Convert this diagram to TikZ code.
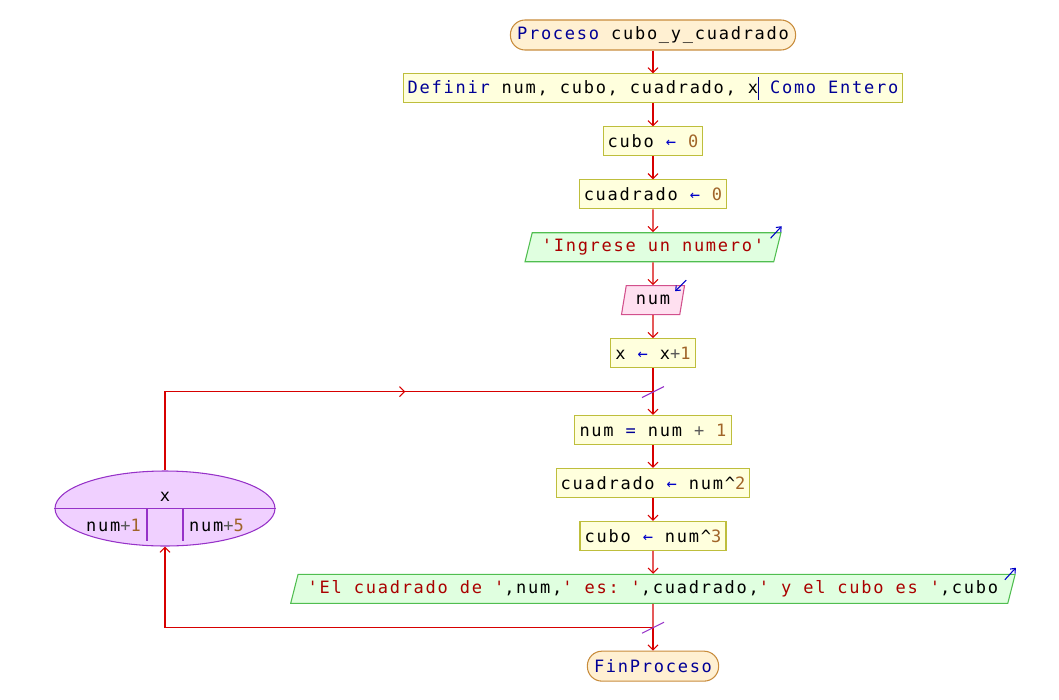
\documentclass[tikz,border=0pt]{standalone}
\usepackage{fontspec}
\setmonofont{DejaVu Sans Mono}[LetterSpace=10.2]
\usetikzlibrary{positioning,shapes.geometric,arrows.meta,decorations.markings}

\definecolor{linea}{RGB}{215,0,0}
\definecolor{kwazul}{RGB}{0,0,150}
\definecolor{cadrojo}{RGB}{170,0,0}
\definecolor{nromarron}{RGB}{160,100,40}
\definecolor{asigazul}{RGB}{0,0,200}
\definecolor{opgris}{RGB}{90,90,90}
\definecolor{cajafondo}{RGB}{255,255,221}
\definecolor{cajaborde}{RGB}{190,190,60}
\definecolor{termfondo}{RGB}{255,240,210}
\definecolor{termborde}{RGB}{200,140,60}
\definecolor{salfondo}{RGB}{224,255,224}
\definecolor{salborde}{RGB}{80,190,80}
\definecolor{entfondo}{RGB}{255,224,240}
\definecolor{entborde}{RGB}{210,80,140}
\definecolor{segfondo}{RGB}{240,208,255}
\definecolor{segborde}{RGB}{150,50,200}

\newcommand{\kw}[1]{\textcolor{kwazul}{#1}}
\newcommand{\cad}[1]{\textcolor{cadrojo}{#1}}
\newcommand{\nro}[1]{\textcolor{nromarron}{#1}}
\newcommand{\asig}{\textcolor{asigazul}{←}}
\newcommand{\mas}{\textcolor{opgris}{+}}

\begin{document}
\begin{tikzpicture}[x=0.75pt,y=0.75pt,line width=0.8pt,node distance=17.15pt,
    >={Straight Barb[length=3.75pt,width=7.5pt]},
    every node/.style={font=\ttfamily\fontsize{12.75}{15}\selectfont},
    flecha/.style={->,draw=linea},
    marca/.style={draw=segborde},
    punto/.style={inner sep=0pt,minimum size=0pt},
    ioflecha/.style={->,draw=asigazul,>={Straight Barb[length=3pt,width=5pt]}},
    inicio/.style={draw=termborde,fill=termfondo,rounded corners=11pt,minimum height=22.5pt,inner xsep=5pt,inner ysep=1pt},
    caja/.style={draw=cajaborde,fill=cajafondo,minimum height=21.75pt,inner xsep=3.5pt,inner ysep=1pt},
    salida/.style={trapezium,trapezium left angle=69,trapezium right angle=111,trapezium stretches body,
        draw=salborde,fill=salfondo,minimum height=21.75pt,inner xsep=7.25pt,inner ysep=1pt},
    entrada/.style={salida,draw=entborde,fill=entfondo},
    segun/.style={ellipse,draw=segborde,fill=segfondo,minimum width=165pt,minimum height=56.25pt}]

\useasboundingbox (0,0) rectangle (1059,-699);

\node[inicio]   (ini)   at (653,-35)        {\kw{Proceso} cubo\_y\_cuadrado};
\node[caja]     (def)   [below = of ini]    {\kw{Definir} num, cubo, cuadrado, x\rlap{\smash{\textcolor{kwazul}{\vrule height 12.75pt depth 4.5pt width 0.75pt}}} \kw{Como Entero}};
\node[caja]     (c0)    [below = of def]    {cubo \asig{} \nro{0}};
\node[caja]     (q0)    [below = of c0]     {cuadrado \asig{} \nro{0}};
\node[salida]   (msg)   [below = of q0]     {\cad{'Ingrese un numero'}};
\node[entrada]  (leer)  [below = of msg]    {num};
\node[caja]     (xinc)  [below = of leer]   {x \asig{} x\mas\nro{1}};
\node[punto]    (j1)    [below = of xinc]   {};
\node[caja]     (n1)    [below = of j1]     {num \kw{=} num \mas{} \nro{1}};
\node[caja]     (q2)    [below = of n1]     {cuadrado \asig{} num\textasciicircum\nro{2}};
\node[caja]     (c3)    [below = of q2]     {cubo \asig{} num\textasciicircum\nro{3}};
\node[salida]   (res)   [below = of c3]     {\cad{'El cuadrado de '},num,\cad{' es: '},cuadrado,\cad{' y el cubo es '},cubo};
\node[punto]    (j2)    [below = of res]    {};
\node[inicio]   (fin)   [below = of j2]     {\kw{FinProceso}};

% segun x
\node[segun]    (sw)    at (165,-508.5)     {};
\draw[segborde] (sw.west) -- (sw.east);
\draw[segborde] ([shift={(-18,0)}]sw.center) -- ++(0,-32);
\draw[segborde] ([shift={(18,0)}]sw.center) -- ++(0,-32);
\node (swx)  at ([shift={(0,11.5)}]sw.center)      {x};
\node (op1)  at ([shift={(-51.5,-17)}]sw.center) {num\mas\nro{1}};
\node (op5)  at ([shift={(51.5,-17)}]sw.center)  {num\mas\nro{5}};

\path[flecha]
(ini) edge (def)
(def) edge (c0)
(c0) edge (q0)
(q0) edge (msg)
(msg) edge (leer)
(leer) edge (xinc)
(j1) edge (n1)
(n1) edge (q2)
(q2) edge (c3)
(c3) edge (res)
(j2) edge (fin);
\draw[linea] (xinc) -- (j1.center);
\draw[linea] (res) -- (j2.center);

% lazo
\draw[linea,postaction={decorate},decoration={markings,mark=at position 0.563 with {\arrow{>}}}]
    (sw.north) |- (j1.center);
\draw[flecha] (j2.center) -| (sw.south);
\draw[marca] (j1.center) ++(-11,-6) -- ++(22,11);
\draw[marca] (j2.center) ++(-11,-6) -- ++(22,11);

% lectura / escritura
\draw[ioflecha] ([shift={(-11,-6)}]msg.top right corner) -- ([shift={(0,6)}]msg.top right corner);
\draw[ioflecha] ([shift={(1,5)}]leer.top right corner) -- ([shift={(-10,-6)}]leer.top right corner);
\draw[ioflecha] ([shift={(-11,-6)}]res.top right corner) -- ([shift={(0,6)}]res.top right corner);
\end{tikzpicture}
\end{document}
